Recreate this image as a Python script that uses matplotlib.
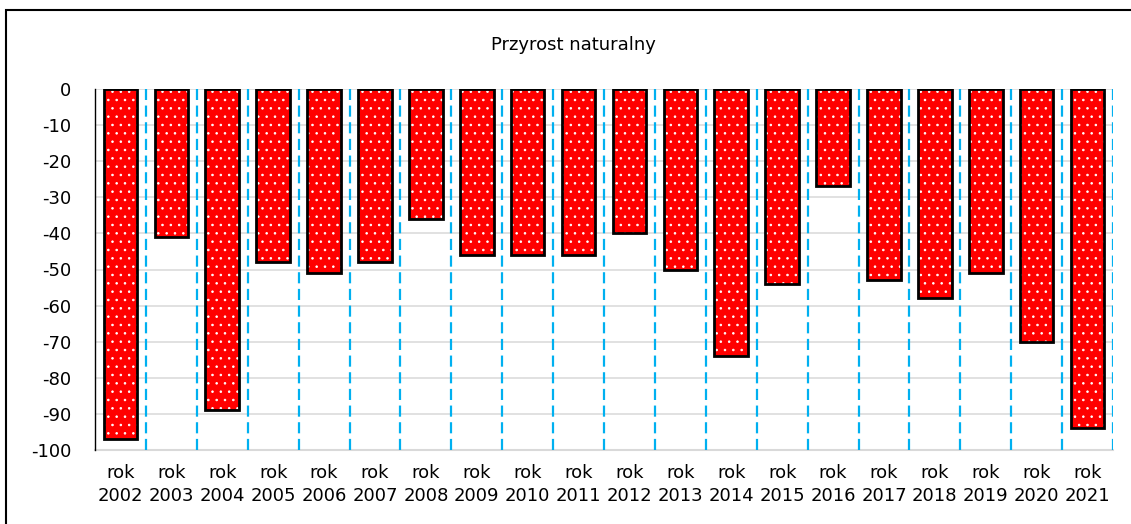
import matplotlib
matplotlib.use("Agg")
import matplotlib.pyplot as plt
from matplotlib.patches import Rectangle
import numpy as np

years = [str(y) for y in range(2002, 2022)]
values = [-97, -41, -89, -48, -51, -48, -36, -46, -46, -46,
          -40, -50, -74, -54, -27, -53, -58, -51, -70, -94]
yticks = list(range(0, -101, -10))

plt.rcParams['font.family'] = 'DejaVu Sans'
plt.rcParams['hatch.linewidth'] = 0.6

fig = plt.figure(figsize=(11.31, 5.24), dpi=100)
ax = fig.add_axes([95 / 1131, 74 / 524, 1018 / 1131, 361 / 524])

x = np.arange(len(years))
# red fill with white dots, then black outline on top
ax.bar(x, values, width=0.66, color='#ff0000', edgecolor='white',
       linewidth=0, hatch='..', zorder=3)
ax.bar(x, values, width=0.66, fill=False, edgecolor='black',
       linewidth=2, zorder=4)

# blue dashed separators between categories
for b in x + 0.5:
    ax.axvline(b, color='#00b0f0', linestyle=(0, (5, 2.5)), linewidth=1.6, zorder=2)

ax.set_xlim(-0.5, len(years) - 0.5)
ax.set_ylim(-100, 0)
ax.set_yticks(yticks)
ax.set_yticklabels([str(v) for v in yticks], fontsize=13)
ax.set_xticks(x)
ax.set_xticklabels(['rok\n' + y for y in years], fontsize=13, linespacing=1.35)
ax.tick_params(axis='y', length=0, pad=17)
ax.tick_params(axis='x', length=0, pad=10)

ax.yaxis.grid(True, color='#d9d9d9', linewidth=1.1, zorder=1)
ax.axhline(-100, color='#d9d9d9', linewidth=1.5, clip_on=False, zorder=1)
ax.set_axisbelow(True)
for s in ['top', 'right', 'bottom']:
    ax.spines[s].set_visible(False)
ax.spines['left'].set_color('black')
ax.spines['left'].set_linewidth(1.0)

fig.text(573 / 1131, 1 - 45 / 524, 'Przyrost naturalny', fontsize=13,
         ha='center', va='center')

# outer chart frame
fig.patches.append(Rectangle((6 / 1131, -0.01), 1.1, 1 - 10 / 524 + 0.01,
                             transform=fig.transFigure, fill=False,
                             edgecolor='black', linewidth=1.5))

fig.savefig('out.png', dpi=100)
